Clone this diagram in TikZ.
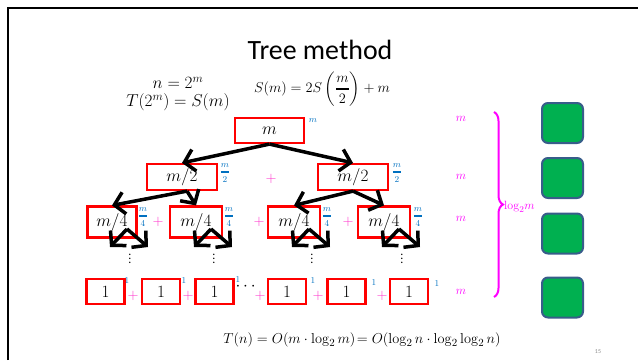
\documentclass[tikz,border=0pt]{standalone}
\usepackage{amsmath}
\usepackage[no-math]{fontspec}
\setmainfont{Carlito}
\usetikzlibrary{arrows.meta,decorations.pathreplacing}

\definecolor{boxred}{RGB}{255,0,0}
\definecolor{costblue}{RGB}{0,112,192}
\definecolor{sumpink}{RGB}{255,51,204}
\definecolor{bracepink}{RGB}{255,0,255}
\definecolor{tilegreen}{RGB}{0,176,80}
\definecolor{tileedge}{RGB}{56,93,138}

\begin{document}
\begin{tikzpicture}[
  x=1bp, y=-1bp,
  >={Straight Barb[length=10bp,width=22bp]},
  call/.style={draw=boxred, line width=2.2bp, inner sep=0pt, font=\fontsize{19}{19}\selectfont},
  cost/.style={text=costblue, inner sep=0pt, font=\fontsize{9}{9}\selectfont},
  plus/.style={text=sumpink, inner sep=0pt, font=\fontsize{15}{15}\selectfont},
  levelsum/.style={text=bracepink, inner sep=0pt, font=\fontsize{13}{13}\selectfont},
  tile/.style={draw=tileedge, fill=tilegreen, line width=2bp, rounded corners=6bp, minimum width=41bp, minimum height=40bp, inner sep=0pt},
  arrow/.style={->, line width=3.5bp}
]

  \useasboundingbox (0,0) rectangle (638,360);
  \draw[line width=2.5bp] (8,360) -- (8,8) -- (638,8);

  \node (title) at (320,50) {\fontsize{28}{28}\selectfont Tree method};
  \node[align=center, font=\fontsize{16.5}{18}\selectfont] (subst) at (178,94) {$n=2^m$\\$T(2^m)=S(m)$};
  \node[font=\fontsize{15.5}{15.5}\selectfont] (recur) at (322,89) {$S(m)=2S\left(\genfrac{}{}{1.6pt}{0}{m}{2}\right)+m$};


  \node[call, minimum width=69bp, minimum height=25bp] (root)  at (269.5,130.5) {$m$};

  \node[call, minimum width=70bp, minimum height=26bp] (halfl) at (182,177) {$m/2$};
  \node[call, minimum width=70bp, minimum height=26bp] (halfr) at (353,177) {$m/2$};

  \node[call, minimum width=49bp, minimum height=31bp] (qa) at (112,222) {$m/4$};
  \node[call, minimum width=52bp, minimum height=31bp] (qb) at (196,222) {$m/4$};
  \node[call, minimum width=52bp, minimum height=31bp] (qc) at (294,222) {$m/4$};
  \node[call, minimum width=52bp, minimum height=31bp] (qd) at (384,222) {$m/4$};

  \foreach \ox/\on in {105.5/onea, 161/oneb, 214.5/onec, 287/oned, 346.5/onee, 409/onef}
    \node[call, minimum width=38bp, minimum height=25bp] (\on) at (\ox,291.5) {$1$};


  \node[cost] (rootcost) at (313,121) {$m$};
  \node[cost] (halflcost) at (225,173) {$\genfrac{}{}{1.2pt}{0}{m}{2}$};
  \node[cost] (halfrcost) at (397,173) {$\genfrac{}{}{1.2pt}{0}{m}{2}$};
  \foreach \cx/\cn in {143/qacost, 229/qbcost, 327/qccost, 418/qdcost}
    \node[cost] (\cn) at (\cx,217) {$\genfrac{}{}{1.2pt}{0}{m}{4}$};
  \foreach \cx/\cy/\cn in {127/281/oneacost, 184/281/onebcost, 238/280/onecCost, 313/281/onedcost, 374/283/oneecost, 437/284/onefcost}
    \node[cost] (\cn) at (\cx,\cy) {$1$};


  \node[plus] (plushalf) at (271,179) {$+$};
  \foreach \px/\pn in {158/plusqa, 259/plusqb, 348/plusqc}
    \node[plus] (\pn) at (\px,222) {$+$};
  \foreach \px/\pn in {133/plusa, 188/plusb, 260/plusc, 318/plusd, 382/pluse}
    \node[plus] (\pn) at (\px,296) {$+$};
  \node[font=\fontsize{17}{17}\selectfont, inner sep=0pt] (skip) at (247,287) {$\cdots$};


  % dots under the m/4 calls
  \foreach \qx/\qn in {112/qa, 196/qb, 294/qc, 384/qd} {
    \node[inner sep=0pt, font=\fontsize{12}{12}\selectfont] (\qn dots) at (\qx+18,256) {$\vdots$};
    \coordinate (\qn start) at (\qx+15,229);
    \coordinate (\qn left)  at (\qx-2,247);
    \coordinate (\qn right) at (\qx+36,247);
  }


  \draw[arrow] (root.south) -- (halfl.north);
  \draw[arrow] (root.south) -- (halfr.north);
  \draw[arrow] ([xshift=5bp]halfl.south) -- (qa.north);
  \draw[arrow] ([xshift=5bp]halfl.south) -- (qb.north);
  \draw[arrow] (halfr.south) -- (qc.north);
  \draw[arrow] (halfr.south) -- (qd.north);
  \foreach \qn in {qa, qb, qc, qd} {
    \draw[arrow] (\qn start) -- (\qn left);
    \draw[arrow] (\qn start) -- (\qn right);
  }


  \foreach \ly/\ln in {119/suma, 177/sumb, 219/sumc, 292/sumd}
    \node[levelsum] (\ln) at (461,\ly) {$m$};
  \coordinate (bracetop) at (494,112);
  \coordinate (bracebot) at (494,297);
  \draw[bracepink, line width=2bp, decorate, decoration={brace, amplitude=9bp}] (bracetop) -- (bracebot);
  \node[levelsum, anchor=west, font=\fontsize{13}{13}\selectfont] (depth) at (504,207) {$\log_2\!m$};

  \foreach \ty/\tn in {123/tilea, 178/tileb, 233.5/tilec, 297.5/tiled}
    \node[tile] (\tn) at (562.5,\ty) {};


  \node[font=\fontsize{15.5}{15.5}\selectfont] (result) at (362,340) {$T(n)=O(m\cdot\log_2 m)\!=O(\log_2 n\cdot\log_2\log_2 n)$};
  \node[text=black!45, font=\fontsize{6}{6}\selectfont] (pagenum) at (598,352) {15};
\end{tikzpicture}
\end{document}
